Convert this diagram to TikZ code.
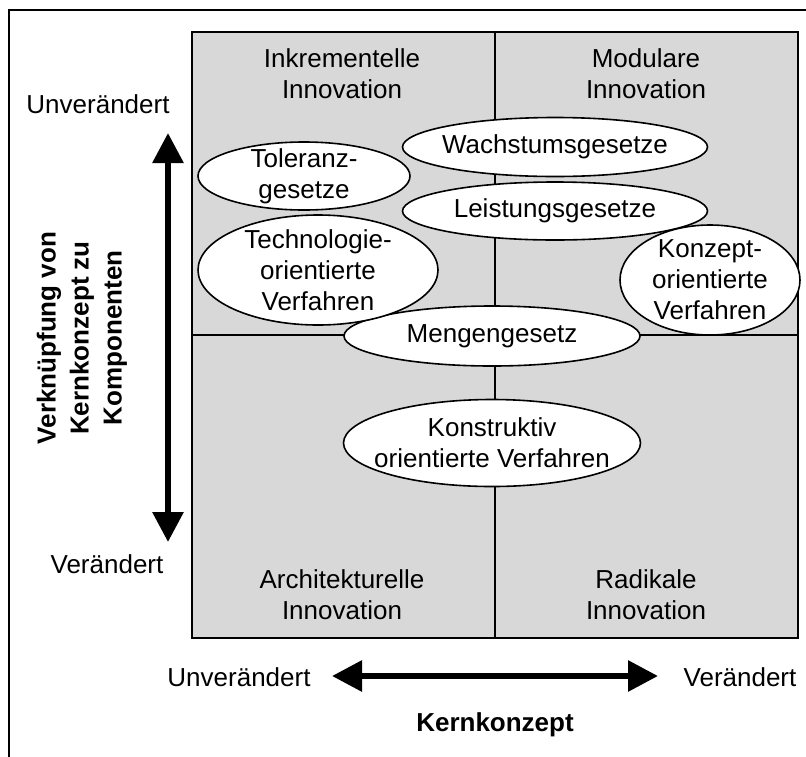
\documentclass[tikz,border=0pt]{standalone}
\usepackage{fontspec}
\setmainfont{Liberation Sans}
\usetikzlibrary{shapes.geometric,arrows.meta}
\definecolor{quadfill}{HTML}{D8D8D8}
\tikzset{
  frameline/.style={line width=2pt, draw=black},
  gridline/.style={line width=2pt, draw=black},
  oval/.style={ellipse, draw=black, line width=1.6pt, fill=white, inner sep=0pt},
  lbl/.style={inner sep=0pt, align=center, font=\fontsize{26}{31}\selectfont},
  axislbl/.style={inner sep=0pt, align=center, font=\fontsize{26}{33}\selectfont\bfseries},
  bigarrow/.style={line width=6pt, {Triangle[length=30pt,width=30pt]}-{Triangle[length=30pt,width=30pt]}}
}
\begin{document}
\begin{tikzpicture}[x=1pt,y=-1pt]
\useasboundingbox (0,0) rectangle (806,756);
% outer frame (open on the right and bottom)
\draw[frameline] (810,10) -- (9,10) -- (9,760);

% quadrant grid
\coordinate (gNW) at (192,32);
\coordinate (gSE) at (798,638);
\coordinate (vTop) at (495,32);
\coordinate (vBot) at (495,638);
\coordinate (hL) at (192,335);
\coordinate (hR) at (798,335);
\fill[quadfill] (gNW) rectangle (gSE);
\draw[gridline] (vTop) -- (vBot);
\draw[gridline] (hL) -- (hR);
\draw[gridline] (gNW) rectangle (gSE);

% quadrant titles
\node[lbl] (inkr) at (342,74) {Inkrementelle\\Innovation};
\node[lbl] (modu) at (646,74) {Modulare\\Innovation};
\node[lbl] (arch) at (342,595) {Architekturelle\\Innovation};
\node[lbl] (radi) at (646,595) {Radikale\\Innovation};

% laws and methods: fixed-size ovals, text set on top
\node[oval, minimum width=297pt, minimum height=87pt] (konstr) at (492,443) {};
\node[lbl] (konstrT) at (konstr) {Konstruktiv\\orientierte Verfahren};
\node[oval, minimum width=296pt, minimum height=60pt] (menge) at (492,336) {};
\node[lbl] (mengeT) at (menge) {Mengengesetz};
\node[oval, minimum width=240pt, minimum height=110pt] (techno) at (318,270) {};
\node[lbl] (technoT) at (techno) {Technologie-\\orientierte\\Verfahren};
\node[oval, minimum width=212pt, minimum height=68pt] (toler) at (304,176) {};
\node[lbl] (tolerT) at (toler) {Toleranz-\\gesetze};
\node[oval, minimum width=305pt, minimum height=58pt] (leist) at (555,211) {};
\node[lbl] (leistT) at (leist) {Leistungsgesetze};
\node[oval, minimum width=305pt, minimum height=59pt] (wachs) at (555,147) {};
\node[lbl] (wachsT) at (wachs) {Wachstumsgesetze};
\node[oval, minimum width=180pt, minimum height=110pt] (konz) at (710,280) {};
\node[lbl] (konzT) at (konz) {Konzept-\\orientierte\\Verfahren};

% vertical axis
\node[lbl] (vTopLbl) at (98,104) {Unverändert};
\node[lbl] (vBotLbl) at (107,564) {Verändert};
\coordinate (vArrTop) at (168,133);
\coordinate (vArrBot) at (168,542);
\draw[bigarrow] (vArrBot) -- (vArrTop);
\node[axislbl, rotate=90] (vAxis) at (82,338) {Verknüpfung von\\Kernkonzept zu\\Komponenten};

% horizontal axis
\node[lbl] (hLeftLbl) at (239,677) {Unverändert};
\node[lbl] (hRightLbl) at (740,677) {Verändert};
\coordinate (hArrL) at (332,676);
\coordinate (hArrR) at (658,676);
\draw[bigarrow] (hArrL) -- (hArrR);
\node[axislbl] (hAxis) at (495,725) {Kernkonzept};
\end{tikzpicture}
\end{document}
